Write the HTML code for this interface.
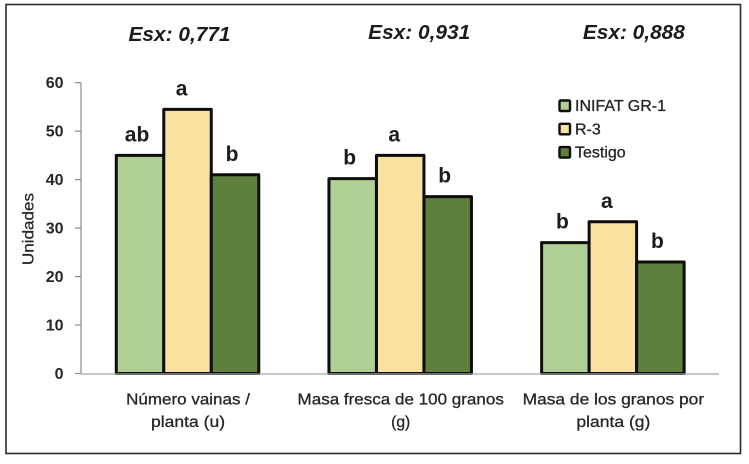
<!DOCTYPE html>
<html lang="es">
<head>
<meta charset="utf-8">
<title>Unidades por variedad</title>
<style>
html,body{margin:0;padding:0;background:#fff;width:749px;height:464px;overflow:hidden}
svg{display:block;font-family:"Liberation Sans",sans-serif}
</style>
</head>
<body>
<svg id="chart" width="749" height="464" viewBox="0 0 749 464" xmlns="http://www.w3.org/2000/svg">
<defs><filter id="soft" x="-2%" y="-2%" width="104%" height="104%"><feGaussianBlur stdDeviation="0.35"/></filter></defs>
<rect x="6" y="4.5" width="734.5" height="449" fill="#fff" stroke="#2b2b2b" stroke-width="1.6"/>
<g id="plot" filter="url(#soft)"></g>
</svg>
<script>
var categories = [["Número vainas /","planta (u)"],["Masa fresca de 100 granos","(g)"],["Masa de los granos por","planta (g)"]];
var seriesNames = ["INIFAT GR-1","R-3","Testigo"];
var seriesInifat = [45,40.2,27];
var seriesR3 = [54.5,45,31.3];
var seriesTestigo = [41,36.5,23];
var lettersInifat = ["ab","b","b"];
var lettersR3 = ["a","a","a"];
var lettersTestigo = ["b","b","b"];
var esxLabels = ["Esx: 0,771","Esx: 0,931","Esx: 0,888"];
var yTicks = [0,10,20,30,40,50,60];

var NS = "http://www.w3.org/2000/svg";
var plot = document.getElementById("plot");
var colors = ["#b0cf94","#f9e2a0","#5f7f3c"];
var allSeries = [seriesInifat, seriesR3, seriesTestigo];
var allLetters = [lettersInifat, lettersR3, lettersTestigo];
var left = 81, right = 719, y0 = 373.5, y60 = 82.7;
var barW = 47.5;
var letterShift = [-3,-6,-3];
function yScale(v){ return y0 - (v/60)*(y0-y60); }
function xCenter(i){ return left + (right-left)*(i+0.5)/categories.length + 0.2; }
function make(tag, attrs, text){
  var el = document.createElementNS(NS, tag);
  for (var k in attrs) el.setAttribute(k, attrs[k]);
  if (text !== undefined) el.textContent = text;
  plot.appendChild(el);
  return el;
}
// Fit a text label to the pixel width it occupies in the reference,
// scaling in proportion to its character count at the chart's label size.
function fit(el, pxPerChar){
  el.setAttribute("textLength", (el.textContent.length * pxPerChar).toFixed(1));
  el.setAttribute("lengthAdjust", "spacingAndGlyphs");
}
// y axis
var axisY = make("line",{x1:left,x2:left,y1:y60,y2:y0,stroke:"#8c8c8c","stroke-width":1.2});


yTicks.forEach(function(t){
  var y = yScale(t);
  var tick = make("line",{x1:left-6,x2:left,y1:y,y2:y,stroke:"#8c8c8c","stroke-width":1.2});
  
  
  var lab = make("text",{x:63.5,y:y+5.5,"text-anchor":"end","font-size":16,"font-weight":"bold",fill:"#262626"},String(t));
  
  
});
var yTitle = make("text",{transform:"translate(33.5,229) rotate(-90)","text-anchor":"middle","font-size":15.5,fill:"#262626",stroke:"#262626","stroke-width":0.25,textLength:72,lengthAdjust:"spacingAndGlyphs"},"Unidades");


// bars
categories.forEach(function(cat,i){
  var cx = xCenter(i);
  allSeries.forEach(function(series,s){
    var x = cx + (s-1.5)*barW;
    var top = yScale(series[i]);
    var bar = make("rect",{x:x,y:top,width:barW,height:y0-top,fill:colors[s],stroke:"#0d0d0d","stroke-width":3,"stroke-linejoin":"round"});
    
    
    var letter = make("text",{x:x+barW/2+letterShift[s],y:top-14,"text-anchor":"middle","font-size":21,"font-weight":"bold",fill:"#1a1a1a"},allLetters[s][i]);
    
    
  });
  var l1 = make("text",{x:cx+0.5,y:404.5,"text-anchor":"middle","font-size":16,fill:"#262626",stroke:"#262626","stroke-width":0.3},cat[0]);
  fit(l1, 8.25);
  
  
  var l2 = make("text",{x:cx+0.5,y:427,"text-anchor":"middle","font-size":16,fill:"#262626",stroke:"#262626","stroke-width":0.3},cat[1]);
  fit(l2, cat[1].length < 4 ? 6.4 : 7.4);
  
  
});
// x axis
var axisX = make("line",{x1:left,x2:right,y1:y0+0.5,y2:y0+0.5,stroke:"#a6a6a6","stroke-width":1.2});


// Esx labels
esxLabels.forEach(function(t,i){
  var e = make("text",{x:xCenter(i)+[-8,19,21][i],y:i===0?41:39,"text-anchor":"middle","font-size":20,"font-weight":"bold","font-style":"italic",fill:"#1a1a1a",textLength:102,lengthAdjust:"spacingAndGlyphs"},t);
  
  
});
// legend
seriesNames.forEach(function(n,i){
  var y = 105.5 + i*23.3;
  var sw = make("rect",{x:559.5,y:y-5,width:10.5,height:10.5,fill:colors[i],stroke:"#0d0d0d","stroke-width":2.4,rx:1});
  
  
  var lt = make("text",{x:575,y:y+5.5,"font-size":16,fill:"#262626",stroke:"#262626","stroke-width":0.3},n);
  
  
});
</script>
</body>
</html>
